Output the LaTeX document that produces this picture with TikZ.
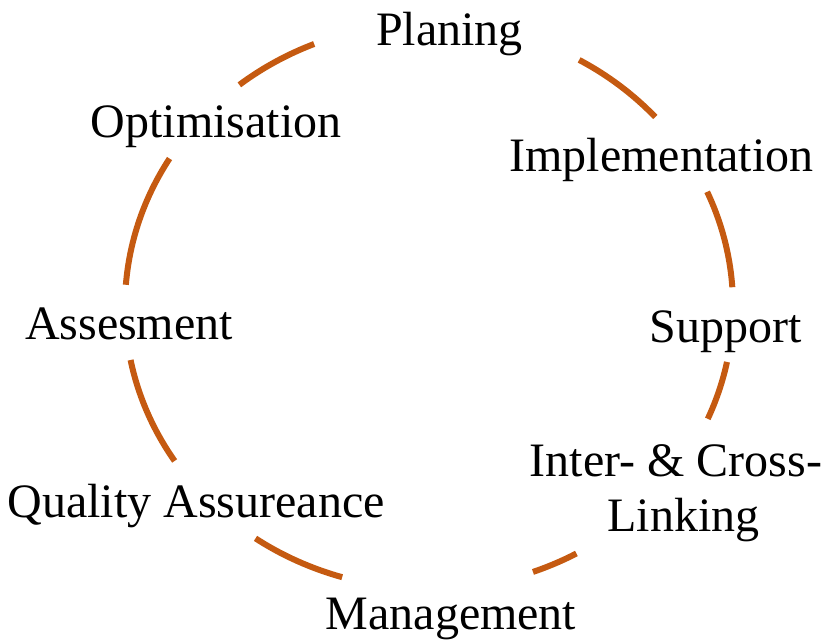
\documentclass[tikz,border=0pt]{standalone}
\usepackage{fontspec}
\setmainfont{Liberation Serif}
\usetikzlibrary{calc}
\definecolor{ringc}{HTML}{C55A11}
\begin{document}
\begin{tikzpicture}[x=1pt,y=1pt,
  ring/.style={draw=ringc,line width=6pt},
  lbl/.style={anchor=base,inner sep=0pt,font=\fontsize{48}{54}\selectfont,text=black}]
\useasboundingbox (0,0) rectangle (827,640);
\coordinate (c) at (429,334);
\foreach \s/\e in {112.2/128.6, 41.9/60.4, 148.6/175.7, 3.8/23.8, 191/213.2, -23.5/-11.4, 235.2/253.4, -70/-61}{
  \draw[ring] ($(c)+(\s:304pt and 283pt)$) arc[start angle=\s, end angle=\e, x radius=304pt, y radius=283pt];
}
\node[lbl] (plan) at (449.5,594) {Planing};
\node[lbl] (impl) at (661.5,468) {Implementation};
\node[lbl] (opt) at (216,502) {Optimisation};
\node[lbl] (ass) at (129,300) {Assesment};
\node[lbl] (sup) at (725.5,297) {Support};
\node[lbl] (inter) at (676,163) {Inter- \& Cross-};
\node[lbl] (link) at (683.5,109) {Linking};
\node[lbl] (qa) at (196,122) {Quality Assureance};
\node[lbl] (mgmt) at (451,11) {Management};
\end{tikzpicture}
\end{document}
